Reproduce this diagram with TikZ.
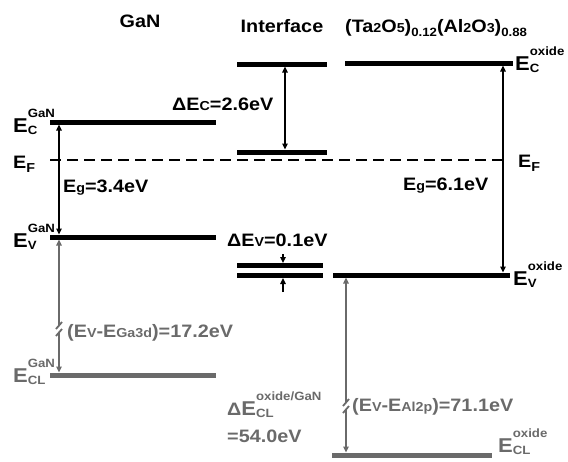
\documentclass[tikz,border=0pt]{standalone}
\usepackage{fontspec}
\setmainfont[FakeStretch=1.1, BoldFont={Liberation Sans Bold}, BoldFeatures={FakeStretch=1.1}]{Liberation Sans}
\usetikzlibrary{positioning, arrows.meta}

\definecolor{corecol}{HTML}{6A6A6A}
\newcommand\lab{\fontsize{18}{20}\selectfont\bfseries}
\newcommand\sml[1]{{\fontsize{13}{13}\selectfont #1}}
\newcommand\scr[1]{{\fontsize{12}{12}\selectfont #1}}
\newcommand\lowsub[1]{\raisebox{-4pt}{\scr{#1}}}
\newcommand\lev[2]{{\fontsize{20}{22}\selectfont E}\raisebox{-2pt}{\shortstack[l]{\scr{#1}\\\rule{0pt}{13pt}\scr{#2}}}}

\begin{document}
\begin{tikzpicture}[x=1pt, y=-1pt,
  every node/.style={inner sep=0pt, font=\lab},
  band/.style={line width=5pt},
  core/.style={band, draw=corecol},
  fermi/.style={line width=2.2pt, dash pattern=on 11pt off 6pt},
  gaparr/.style={line width=1.8pt, {Triangle[length=6pt,width=5.5pt]}-{Triangle[length=6pt,width=5.5pt]}},
  onearr/.style={line width=1.8pt, -{Triangle[length=6pt,width=5.5pt]}},
  brk/.style={line width=1.8pt, draw=corecol},
  lbl/.style={anchor=base west},
  title/.style={anchor=base}
]
\useasboundingbox (0,0) rectangle (568,461);

% column titles
\node[title] (tgan) at (140,27) {GaN};
\node[title] (tint) at (282,32) {Interface};
\node[title, anchor=base west] (tox) at (345,32) {(Ta\sml{2}O\sml{5})\lowsub{0.12}(Al\sml{2}O\sml{3})\lowsub{0.88}};

% band edges
\coordinate (gcA) at (50,122);    \coordinate (gcB) at (216,122);
\coordinate (gvA) at (50,237);    \coordinate (gvB) at (216,237);
\coordinate (glA) at (50,375);    \coordinate (glB) at (216,375);
\coordinate (icA) at (237,64);    \coordinate (icB) at (327,64);
\coordinate (ifA) at (237,152);   \coordinate (ifB) at (327,152);
\coordinate (ivA) at (237,265.5); \coordinate (ivB) at (323,265.5);
\coordinate (iwA) at (237,275.5); \coordinate (iwB) at (323,275.5);
\coordinate (ocA) at (345,63);    \coordinate (ocB) at (513,63);
\coordinate (ovA) at (333,275);   \coordinate (ovB) at (510,275);
\coordinate (olA) at (332,455);   \coordinate (olB) at (492,455);
\coordinate (efA) at (50,160);    \coordinate (efB) at (506,160);

\draw[fermi] (efA) -- (efB);
\foreach \a/\b in {gcA/gcB, gvA/gvB, icA/icB, ifA/ifB, ivA/ivB, iwA/iwB, ocA/ocB, ovA/ovB}
  \draw[band] (\a) -- (\b);
\foreach \a/\b in {glA/glB, olA/olB}
  \draw[core] (\a) -- (\b);

% gaps and offsets
\coordinate (egT) at (59,124.5);   \coordinate (egB) at (59,234.5);
\coordinate (dcT) at (285,66.5);   \coordinate (dcB) at (285,149.5);
\coordinate (eoT) at (503,65.5);   \coordinate (eoB) at (503,272.5);
\draw[gaparr] (egT) -- (egB);
\draw[gaparr] (dcT) -- (dcB);
\draw[gaparr] (eoT) -- (eoB);

\coordinate (dvA) at (283,254);  \coordinate (dvB) at (283,263);
\coordinate (dvC) at (283,292);  \coordinate (dvD) at (283,278);
\draw[onearr] (dvA) -- (dvB);
\draw[onearr] (dvC) -- (dvD);

% core levels, broken arrows
\coordinate (gaT) at (59,239.5);  \coordinate (gaM) at (59,325);
\coordinate (gaN) at (59,333);    \coordinate (gaB) at (59,372.5);
\draw[onearr, corecol] (gaM) -- (gaT);
\draw[onearr, corecol] (gaN) -- (gaB);
\draw[brk] (56,329) -- (62,322);
\draw[brk] (56,336) -- (62,329);

\coordinate (alT) at (346,277.5); \coordinate (alM) at (346,402);
\coordinate (alN) at (346,410);   \coordinate (alB) at (346,452.5);
\draw[onearr, corecol] (alM) -- (alT);
\draw[onearr, corecol] (alN) -- (alB);
\draw[brk] (343,406) -- (349,399);
\draw[brk] (343,413) -- (349,406);

% labels
\node[lbl] (lecg) at (13,132) {\lev{GaN}{C}};
\node[lbl] (lefg) at (13,168) {E\raisebox{-4pt}{\sml{F}}};
\node[lbl] (legg) at (63,192) {E\sml{g}=3.4eV};
\node[lbl] (levg) at (13,247) {\lev{GaN}{V}};
\node[lbl, text=corecol] (lelg) at (13,382) {\lev{GaN}{CL}};
\node[lbl] (ldec) at (172,110) {ΔE\sml{C}=2.6eV};
\node[lbl] (ldev) at (227,246) {ΔE\sml{V}=0.1eV};
\node[lbl] (lego) at (403,190) {E\sml{g}=6.1eV};
\node[lbl] (lefo) at (518,167) {E\raisebox{-4pt}{\sml{F}}};
\node[lbl] (leco) at (515,70) {\lev{oxide}{C}};
\node[lbl] (levo) at (513,285) {\lev{oxide}{V}};
\node[lbl, text=corecol] (lelo) at (498,452) {\lev{oxide}{CL}};
\node[lbl, text=corecol] (lgad) at (67,337) {(E\sml{V}-E\sml{Ga3d})=17.2eV};
\node[lbl, text=corecol] (lalp) at (352,411) {(E\sml{V}-E\sml{Al2p})=71.1eV};
\node[lbl, text=corecol] (ldcl) at (227,415) {Δ\lev{oxide/GaN}{CL}};
\node[lbl, text=corecol] (ldcv) at (227,442) {=54.0eV};
\end{tikzpicture}
\end{document}
